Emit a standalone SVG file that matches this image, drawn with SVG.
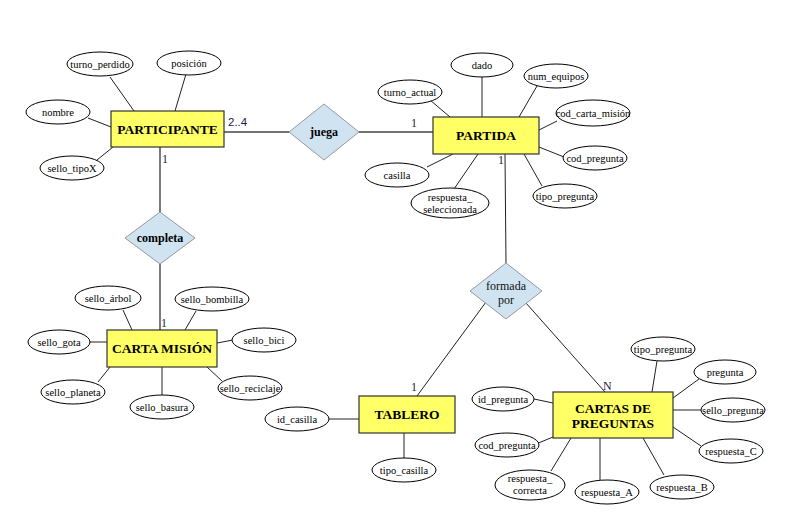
<svg xmlns="http://www.w3.org/2000/svg" width="805" height="525" viewBox="0 0 805 525">
<style>
.ent{fill:#ffff66;stroke:#333;stroke-width:1.2}
.rel{fill:#cfe3f1;stroke:#999;stroke-width:1}
.att{fill:#fff;stroke:#000;stroke-width:1}
.et{font-family:"Liberation Serif",serif;font-weight:bold;font-size:13.5px;fill:#000;text-anchor:middle}
.rt{font-family:"Liberation Serif",serif;font-weight:bold;font-size:12px;fill:#000;text-anchor:middle}
.rn{font-family:"Liberation Serif",serif;font-size:12px;fill:#111;text-anchor:middle}
.at{font-family:"Liberation Serif",serif;font-size:10.5px;fill:#000;text-anchor:middle}
.card{font-family:"Liberation Serif",serif;font-size:12px;fill:#1a1a50}
.cards{font-family:"Liberation Sans",sans-serif;font-size:11.5px;fill:#1a1a50}
.l1{stroke:#444;stroke-width:1.4;fill:none}
.l2{stroke:#222;stroke-width:1;fill:none}
</style>
<rect width="805" height="525" fill="#fff"/>
<g id="connectors">
<line class="l1" x1="224" y1="132" x2="289" y2="132"/>
<line class="l1" x1="359" y1="132" x2="433" y2="132"/>
<line class="l1" x1="160" y1="147" x2="160" y2="212"/>
<line class="l1" x1="160" y1="264" x2="160" y2="330"/>
<line class="l2" x1="505" y1="154" x2="506" y2="263"/>
<line class="l2" x1="486" y1="302" x2="417" y2="396"/>
<line class="l2" x1="526" y1="303" x2="605" y2="392"/>
<line class="l2" x1="110" y1="77" x2="134" y2="111"/>
<line class="l2" x1="186" y1="74" x2="175" y2="111"/>
<line class="l2" x1="88" y1="118" x2="111" y2="127"/>
<line class="l2" x1="97" y1="160" x2="113" y2="147"/>
<line class="l2" x1="482" y1="77" x2="482" y2="117"/>
<line class="l2" x1="430" y1="100" x2="450" y2="117"/>
<line class="l2" x1="537" y1="86" x2="519" y2="117"/>
<line class="l2" x1="557" y1="121" x2="539" y2="130"/>
<line class="l2" x1="539" y1="147" x2="564" y2="157"/>
<line class="l2" x1="427" y1="167" x2="453" y2="154"/>
<line class="l2" x1="454" y1="189" x2="478" y2="154"/>
<line class="l2" x1="542" y1="186" x2="524" y2="154"/>
<line class="l2" x1="123" y1="310" x2="132" y2="330"/>
<line class="l2" x1="196" y1="311" x2="185" y2="330"/>
<line class="l2" x1="90" y1="342" x2="107" y2="342"/>
<line class="l2" x1="217" y1="343" x2="233" y2="340"/>
<line class="l2" x1="98" y1="382" x2="110" y2="367"/>
<line class="l2" x1="162" y1="367" x2="162" y2="395"/>
<line class="l2" x1="207" y1="367" x2="222" y2="381"/>
<line class="l2" x1="329" y1="419" x2="359" y2="419"/>
<line class="l2" x1="404" y1="433" x2="404" y2="458"/>
<line class="l2" x1="657" y1="361" x2="652" y2="392"/>
<line class="l2" x1="699" y1="379" x2="673" y2="398"/>
<line class="l2" x1="673" y1="410" x2="701" y2="410"/>
<line class="l2" x1="673" y1="427" x2="701" y2="446"/>
<line class="l2" x1="643" y1="438" x2="664" y2="475"/>
<line class="l2" x1="600" y1="438" x2="600" y2="480"/>
<line class="l2" x1="571" y1="438" x2="551" y2="471"/>
<line class="l2" x1="536" y1="444" x2="553" y2="437"/>
<line class="l2" x1="534" y1="399" x2="553" y2="403"/>
<text class="cards" x="228" y="126">2..4</text>
<text class="card" x="411" y="127">1</text>
<text class="card" x="162" y="163">1</text>
<text class="card" x="161" y="327">1</text>
<text class="card" x="498" y="164">1</text>
<text class="card" x="411" y="391">1</text>
<text class="card" x="603" y="390">N</text>
</g>
<g id="participante">
<rect class="ent" x="111" y="111" width="113" height="36"/>
<text class="et" x="167.5" y="134">PARTICIPANTE</text>
</g>
<g id="partida">
<rect class="ent" x="433" y="117" width="106" height="37"/>
<text class="et" x="486" y="140">PARTIDA</text>
</g>
<g id="carta_mision">
<rect class="ent" x="107" y="330" width="110" height="37"/>
<text class="et" x="162" y="353">CARTA MISIÓN</text>
</g>
<g id="tablero">
<rect class="ent" x="359" y="396" width="96" height="37"/>
<text class="et" x="407" y="419">TABLERO</text>
</g>
<g id="cartas_preguntas">
<rect class="ent" x="553" y="392" width="120" height="46"/>
<text class="et" x="613" y="413">CARTAS DE</text>
<text class="et" x="613" y="428">PREGUNTAS</text>
</g>
<g id="juega">
<polygon class="rel" points="289,132 324,104 359,132 324,160"/>
<text class="rt" x="324" y="136">juega</text>
</g>
<g id="completa">
<polygon class="rel" points="125,238 160,212 195,238 160,264"/>
<text class="rt" x="160" y="242">completa</text>
</g>
<g id="formada_por">
<polygon class="rel" points="470,291 506,263 542,291 506,319"/>
<text class="rn" x="506" y="290">formada</text>
<text class="rn" x="506" y="304">por</text>
</g>
<g id="attributes">
<g id="a_turno_perdido"><ellipse class="att" cx="100" cy="64" rx="33" ry="12"/><text class="at" x="100" y="67.5">turno_perdido</text></g>
<g id="a_posicion"><ellipse class="att" cx="189" cy="63" rx="32" ry="12"/><text class="at" x="189" y="66.5">posición</text></g>
<g id="a_nombre"><ellipse class="att" cx="58" cy="112" rx="32" ry="12"/><text class="at" x="58" y="115.5">nombre</text></g>
<g id="a_sello_tipoX"><ellipse class="att" cx="72" cy="168" rx="32" ry="12"/><text class="at" x="72" y="171.5">sello_tipoX</text></g>
<g id="a_dado"><ellipse class="att" cx="482" cy="65" rx="31" ry="12"/><text class="at" x="482" y="68.5">dado</text></g>
<g id="a_turno_actual"><ellipse class="att" cx="410" cy="92" rx="32" ry="12"/><text class="at" x="410" y="95.5">turno_actual</text></g>
<g id="a_num_equipos"><ellipse class="att" cx="556" cy="76" rx="32" ry="12"/><text class="at" x="556" y="79.5">num_equipos</text></g>
<g id="a_cod_carta_mision"><ellipse class="att" cx="593" cy="113" rx="37" ry="13"/><text class="at" x="593" y="116.5">cod_carta_misión</text></g>
<g id="a_cod_pregunta_p"><ellipse class="att" cx="595" cy="158" rx="32" ry="12"/><text class="at" x="595" y="161.5">cod_pregunta</text></g>
<g id="a_casilla"><ellipse class="att" cx="397" cy="175" rx="32" ry="12"/><text class="at" x="397" y="178.5">casilla</text></g>
<g id="a_respuesta_seleccionada"><ellipse class="att" cx="450" cy="203" rx="39" ry="15"/><text class="at" x="450" y="201">respuesta_</text><text class="at" x="450" y="213">seleccionada</text></g>
<g id="a_tipo_pregunta_p"><ellipse class="att" cx="565" cy="196" rx="32" ry="12"/><text class="at" x="565" y="199.5">tipo_pregunta</text></g>
<g id="a_sello_arbol"><ellipse class="att" cx="108" cy="298" rx="33" ry="12"/><text class="at" x="108" y="301.5">sello_árbol</text></g>
<g id="a_sello_bombilla"><ellipse class="att" cx="212" cy="299" rx="37" ry="12"/><text class="at" x="212" y="302.5">sello_bombilla</text></g>
<g id="a_sello_gota"><ellipse class="att" cx="59" cy="342" rx="31" ry="12"/><text class="at" x="59" y="345.5">sello_gota</text></g>
<g id="a_sello_bici"><ellipse class="att" cx="264" cy="340" rx="32" ry="12"/><text class="at" x="264" y="343.5">sello_bici</text></g>
<g id="a_sello_planeta"><ellipse class="att" cx="73" cy="392" rx="32" ry="12"/><text class="at" x="73" y="395.5">sello_planeta</text></g>
<g id="a_sello_basura"><ellipse class="att" cx="162" cy="407" rx="32" ry="12"/><text class="at" x="162" y="410.5">sello_basura</text></g>
<g id="a_sello_reciclaje"><ellipse class="att" cx="250" cy="388" rx="32" ry="12"/><text class="at" x="250" y="391.5">sello_reciclaje</text></g>
<g id="a_id_casilla"><ellipse class="att" cx="297" cy="419" rx="32" ry="12"/><text class="at" x="297" y="422.5">id_casilla</text></g>
<g id="a_tipo_casilla"><ellipse class="att" cx="404" cy="470" rx="32" ry="12"/><text class="at" x="404" y="473.5">tipo_casilla</text></g>
<g id="a_tipo_pregunta_c"><ellipse class="att" cx="663" cy="349" rx="32" ry="12"/><text class="at" x="663" y="352.5">tipo_pregunta</text></g>
<g id="a_pregunta"><ellipse class="att" cx="725" cy="372" rx="31" ry="12"/><text class="at" x="725" y="375.5">pregunta</text></g>
<g id="a_sello_pregunta"><ellipse class="att" cx="733" cy="410" rx="32" ry="12"/><text class="at" x="733" y="413.5">sello_pregunta</text></g>
<g id="a_respuesta_C"><ellipse class="att" cx="731" cy="451" rx="32" ry="12"/><text class="at" x="731" y="454.5">respuesta_C</text></g>
<g id="a_respuesta_B"><ellipse class="att" cx="682" cy="487" rx="32" ry="12"/><text class="at" x="682" y="490.5">respuesta_B</text></g>
<g id="a_respuesta_A"><ellipse class="att" cx="607" cy="492" rx="32" ry="12"/><text class="at" x="607" y="495.5">respuesta_A</text></g>
<g id="a_respuesta_correcta"><ellipse class="att" cx="530" cy="485" rx="35" ry="15"/><text class="at" x="530" y="482">respuesta_</text><text class="at" x="530" y="494">correcta</text></g>
<g id="a_cod_pregunta_c"><ellipse class="att" cx="507" cy="445" rx="32" ry="12"/><text class="at" x="507" y="448.5">cod_pregunta</text></g>
<g id="a_id_pregunta"><ellipse class="att" cx="503" cy="399" rx="31" ry="12"/><text class="at" x="503" y="402.5">id_pregunta</text></g>
</g>
</svg>
